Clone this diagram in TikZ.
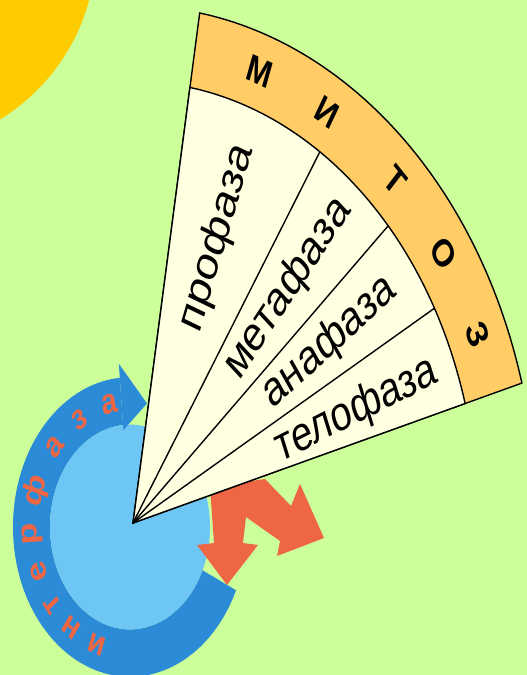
\documentclass[tikz,border=0pt]{standalone}
\usepackage{fontspec}
\setmainfont{Liberation Sans}
\usepackage{tikz}
\usetikzlibrary{positioning}

\definecolor{bggreen}{RGB}{204,255,153}
\definecolor{sunyellow}{RGB}{255,204,0}
\definecolor{bandorange}{RGB}{255,204,102}
\definecolor{phasecream}{RGB}{255,255,226}
\definecolor{ringblue}{RGB}{43,139,214}
\definecolor{diskblue}{RGB}{110,198,245}
\definecolor{arrowred}{RGB}{238,102,68}

\begin{document}
\begin{tikzpicture}[
    x=1pt, y=1pt,
    phase/.style={font=\fontsize{38}{38}\selectfont, transform shape, inner sep=0pt},
    mletter/.style={font=\bfseries\fontsize{30}{30}\selectfont, transform shape, inner sep=0pt},
    iletter/.style={font=\bfseries\fontsize{28}{28}\selectfont, text=arrowred, transform shape, inner sep=0pt},
    edge/.style={draw=black, line width=1.4pt},
]
    \useasboundingbox (0,0) rectangle (527,675);
    \fill[bggreen] (0,0) rectangle (527,675);

    % Sun in the corner
    \fill[sunyellow] (-105,727) circle[radius=201];

    % Interphase: ring arrow round the cell
    \begin{scope}[shift={(130,148)}, yscale=1.28]
        \fill[ringblue] (95:117) arc[start angle=95, end angle=335, radius=117]
            -- (335:80) arc[start angle=335, end angle=95, radius=80] -- cycle;
        \fill[diskblue] (0,0) circle[radius=80];
        \fill[ringblue] (95:128) -- (80:98) -- (95:76) -- cycle;
        \foreach \ch/\ang [count=\i] in {и/250, н/233, т/218, е/201, р/183, ф/163, а/140, з/121, а/102}
            \node[iletter, rotate=\ang-90] (inter\i) at (\ang:98) {\ch};
    \end{scope}

    % Division arrows
    \fill[arrowred] (210,188) -- (214,132) -- (197,130) -- (227,90) -- (258,130)
        -- (243,132) -- (246,158) -- (280,134) -- (277,119) -- (324,137)
        -- (300,191) -- (291,169) -- (265,196) -- cycle;

    % Mitosis fan
    \begin{scope}[shift={(133,152)}, yscale=1.28]
        \filldraw[fill=bandorange, edge] (0,0) -- (80.5:404)
            arc[start angle=80.5, end angle=15.7, radius=404] -- cycle;
        \filldraw[fill=phasecream, edge] (0,0) -- (80.5:345)
            arc[start angle=80.5, end angle=15.7, radius=345] -- cycle;
        \foreach \ang in {57.2, 42.3, 29.1}
            \draw[edge] (0,0) -- (\ang:345);

        \node[phase, rotate=69.3] (pro) at (69.3:238) {профаза};
        \node[phase, rotate=49.8] (meta) at (49.8:240) {метафаза};
        \node[phase, rotate=35.7] (ana) at (35.7:242) {анафаза};
        \node[phase, rotate=21.5] (telo) at (21.5:240) {телофаза};

        \foreach \ch/\ang [count=\i] in {М/70.3, И/58.8, Т/45.6, О/34.2, З/23.1}
            \node[mletter, rotate=\ang-90] (mit\i) at (\ang:375) {\ch};
    \end{scope}
\end{tikzpicture}
\end{document}
